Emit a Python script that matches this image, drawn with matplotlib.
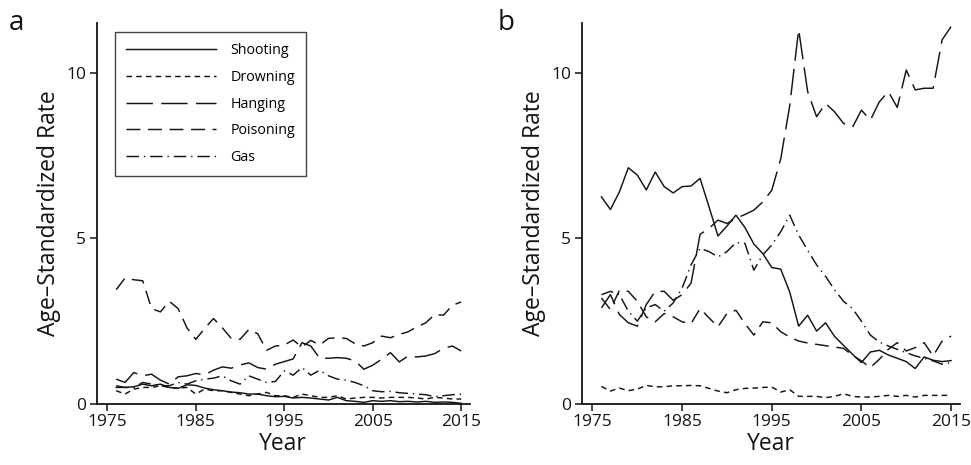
import matplotlib
matplotlib.use("Agg")
import matplotlib.pyplot as plt
import numpy as np

plt.rcParams['font.family'] = ['Open Sans', 'DejaVu Sans']
plt.rcParams['lines.scale_dashes'] = False

years = list(range(1976, 2016))
labels = ["Shooting", "Drowning", "Hanging", "Poisoning", "Gas"]

shoot_a = [0.50,0.50,0.52,0.60,0.55,0.60,0.50,0.47,0.58,0.56,
           0.48,0.43,0.40,0.36,0.34,0.30,0.30,0.25,0.22,0.23,
           0.18,0.20,0.18,0.15,0.12,0.20,0.10,0.08,0.05,0.10,
           0.08,0.10,0.07,0.08,0.06,0.08,0.05,0.06,0.05,0.02]
drown_a = [0.40,0.30,0.45,0.50,0.50,0.55,0.50,0.48,0.50,0.30,
           0.45,0.40,0.40,0.35,0.30,0.25,0.30,0.35,0.25,0.25,
           0.20,0.30,0.25,0.20,0.20,0.25,0.15,0.18,0.20,0.20,
           0.18,0.20,0.20,0.20,0.18,0.15,0.20,0.18,0.15,0.15]
hang_a = [0.75,0.65,0.95,0.85,0.90,0.72,0.60,0.82,0.85,0.92,
          0.88,1.02,1.12,1.08,1.18,1.24,1.10,1.05,1.20,1.28,
          1.36,1.85,1.75,1.38,1.38,1.40,1.38,1.30,1.05,1.17,
          1.35,1.55,1.27,1.45,1.42,1.45,1.52,1.68,1.75,1.60]
pois_a = [3.45,3.80,3.75,3.72,2.88,2.78,3.10,2.88,2.30,1.95,
          2.28,2.58,2.30,1.98,1.95,2.25,2.12,1.62,1.75,1.78,
          1.93,1.72,1.92,1.78,1.98,2.00,1.98,1.82,1.75,1.85,
          2.05,2.00,2.10,2.18,2.33,2.45,2.70,2.68,2.98,3.08]
gas_a = [0.55,0.50,0.50,0.65,0.60,0.55,0.55,0.65,0.60,0.70,
         0.75,0.78,0.85,0.70,0.60,0.85,0.75,0.65,0.68,1.00,
         0.87,1.10,0.87,1.02,0.85,0.75,0.72,0.65,0.55,0.40,
         0.37,0.38,0.34,0.32,0.30,0.28,0.22,0.25,0.28,0.30]

shoot_b = [6.25,5.87,6.40,7.13,6.91,6.46,7.00,6.56,6.37,6.56,
           6.58,6.81,5.95,5.07,5.37,5.70,5.33,4.83,4.54,4.12,
           4.07,3.38,2.35,2.68,2.20,2.45,2.04,1.77,1.50,1.25,
           1.57,1.62,1.48,1.38,1.28,1.07,1.42,1.32,1.28,1.31]
drown_b = [0.53,0.39,0.48,0.40,0.45,0.56,0.52,0.52,0.55,0.55,
           0.56,0.55,0.47,0.39,0.34,0.43,0.47,0.48,0.50,0.51,
           0.36,0.43,0.23,0.23,0.23,0.19,0.23,0.31,0.23,0.21,
           0.21,0.23,0.26,0.23,0.26,0.21,0.26,0.26,0.26,0.26]
hang_b = [2.90,3.30,2.70,2.45,2.35,3.00,3.40,3.40,3.13,3.30,
          3.65,5.12,5.30,5.55,5.45,5.60,5.72,5.85,6.10,6.45,
          7.40,9.00,11.30,9.43,8.67,9.07,8.82,8.47,8.35,8.87,
          8.57,9.12,9.43,8.95,10.08,9.48,9.53,9.53,10.99,11.39]
pois_b = [3.20,2.85,3.43,3.40,3.10,2.63,2.48,2.73,2.63,2.48,
          2.43,2.88,2.60,2.33,2.73,2.83,2.43,2.08,2.48,2.45,
          2.18,2.02,1.90,1.84,1.80,1.76,1.72,1.68,1.47,1.30,
          1.10,1.35,1.65,1.85,1.60,1.70,1.85,1.45,1.90,2.05]
gas_b = [3.30,3.40,3.30,2.80,2.50,2.90,3.00,2.80,3.05,3.50,
         4.20,4.70,4.60,4.44,4.60,4.87,4.85,4.04,4.50,4.80,
         5.20,5.70,5.10,4.64,4.20,3.85,3.45,3.10,2.88,2.50,
         2.08,1.87,1.75,1.65,1.55,1.45,1.38,1.30,1.20,1.25]

styles = [
    dict(linestyle='-'),
    dict(linestyle=(0, (4.0, 3.0))),
    dict(linestyle=(0, (19.0, 6.0))),
    dict(linestyle=(0, (10.0, 5.5))),
    dict(linestyle=(0, (9.0, 3.5, 1.0, 3.5))),
]

ink = '#141414'
fig = plt.figure(figsize=(9.71, 4.65), dpi=100)
ax_a = fig.add_axes([0.0996, 0.1312, 0.3845, 0.8194])
ax_b = fig.add_axes([0.5991, 0.1312, 0.3896, 0.8194])

for ax, series in [(ax_a, [shoot_a, drown_a, hang_a, pois_a, gas_a]),
                   (ax_b, [shoot_b, drown_b, hang_b, pois_b, gas_b])]:
    for vals, lab, st in zip(series, labels, styles):
        ax.plot(years, vals, color=ink, linewidth=1.05, label=lab, **st)
    ax.set_xlim(1973.8, 2016.0)
    ax.set_ylim(0, 11.5)
    ax.set_xticks([1975, 1985, 1995, 2005, 2015])
    ax.set_yticks([0, 5, 10])
    for s in ['top', 'right']:
        ax.spines[s].set_visible(False)
    for s in ['left', 'bottom']:
        ax.spines[s].set_linewidth(1.3)
        ax.spines[s].set_color(ink)
    ax.tick_params(direction='out', length=5, width=1.1, labelsize=12.5,
                   colors=ink, pad=2.5)
    ax.set_xlabel('Year', fontsize=16.5, labelpad=1, color=ink)
    ax.set_ylabel('Age\u2013Standardized Rate', fontsize=16.5, labelpad=4,
                  color=ink)

leg = ax_a.legend(loc='upper left', bbox_to_anchor=(0.049, 0.975), fontsize=10.3,
                  handlelength=6.3, handletextpad=1.0, labelspacing=0.82,
                  frameon=True, fancybox=False, borderpad=0.75,
                  borderaxespad=0.0)
leg.get_frame().set_edgecolor(ink)
leg.get_frame().set_linewidth(1.0)

fig.text(0.009, 0.935, 'a', fontsize=20, color=ink)
fig.text(0.512, 0.935, 'b', fontsize=20, color=ink)

fig.savefig('out.png', dpi=100)
